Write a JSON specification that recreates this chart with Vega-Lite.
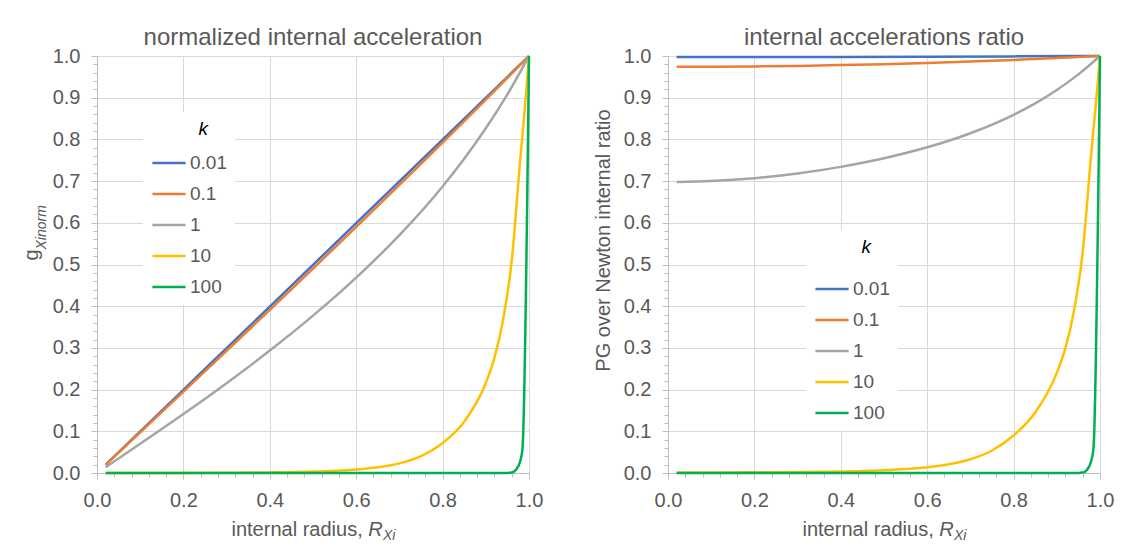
{
  "$schema": "https://vega.github.io/schema/vega-lite/v6.json",
  "background": "white",
  "padding": {"left": 21, "top": 26, "right": 5, "bottom": 5},
  "datasets": {
    "d": [
      {"k": "0.01", "r": 0.02, "g": 0.01995, "p": 0.9974},
      {"k": "0.01", "r": 0.2, "g": 0.1995, "p": 0.9975},
      {"k": "0.01", "r": 0.4, "g": 0.3991, "p": 0.9978},
      {"k": "0.01", "r": 0.6, "g": 0.599, "p": 0.9983},
      {"k": "0.01", "r": 0.8, "g": 0.7993, "p": 0.9991},
      {"k": "0.01", "r": 1.0, "g": 1.0, "p": 1.0},
      {"k": "0.1", "r": 0.02, "g": 0.0195, "p": 0.974},
      {"k": "0.1", "r": 0.1, "g": 0.0974, "p": 0.9743},
      {"k": "0.1", "r": 0.2, "g": 0.195, "p": 0.975},
      {"k": "0.1", "r": 0.3, "g": 0.2929, "p": 0.9763},
      {"k": "0.1", "r": 0.4, "g": 0.3913, "p": 0.9782},
      {"k": "0.1", "r": 0.5, "g": 0.4903, "p": 0.9805},
      {"k": "0.1", "r": 0.6, "g": 0.59, "p": 0.9834},
      {"k": "0.1", "r": 0.7, "g": 0.6907, "p": 0.9867},
      {"k": "0.1", "r": 0.8, "g": 0.7925, "p": 0.9906},
      {"k": "0.1", "r": 0.9, "g": 0.8956, "p": 0.9951},
      {"k": "0.1", "r": 1.0, "g": 1.0, "p": 1.0},
      {"k": "1", "r": 0.02, "g": 0.01396, "p": 0.6981},
      {"k": "1", "r": 0.1, "g": 0.07003, "p": 0.7003},
      {"k": "1", "r": 0.2, "g": 0.1414, "p": 0.707},
      {"k": "1", "r": 0.3, "g": 0.2155, "p": 0.7183},
      {"k": "1", "r": 0.4, "g": 0.2936, "p": 0.7341},
      {"k": "1", "r": 0.5, "g": 0.3774, "p": 0.7547},
      {"k": "1", "r": 0.6, "g": 0.4686, "p": 0.781},
      {"k": "1", "r": 0.7, "g": 0.5704, "p": 0.8148},
      {"k": "1", "r": 0.8, "g": 0.6872, "p": 0.859},
      {"k": "1", "r": 0.85, "g": 0.7534, "p": 0.8864},
      {"k": "1", "r": 0.9, "g": 0.8266, "p": 0.9184},
      {"k": "1", "r": 0.95, "g": 0.9081, "p": 0.9559},
      {"k": "1", "r": 1.0, "g": 1.0, "p": 1.0},
      {"k": "10", "r": 0.02, "g": 0.00002, "p": 0.0012},
      {"k": "10", "r": 0.1, "g": 0.00013, "p": 0.0013},
      {"k": "10", "r": 0.2, "g": 0.0003, "p": 0.0016},
      {"k": "10", "r": 0.3, "g": 0.0007, "p": 0.0023},
      {"k": "10", "r": 0.4, "g": 0.0014, "p": 0.0036},
      {"k": "10", "r": 0.5, "g": 0.0033, "p": 0.0066},
      {"k": "10", "r": 0.6, "g": 0.0082, "p": 0.0137},
      {"k": "10", "r": 0.65, "g": 0.0137, "p": 0.021},
      {"k": "10", "r": 0.7, "g": 0.0231, "p": 0.033},
      {"k": "10", "r": 0.75, "g": 0.0405, "p": 0.054},
      {"k": "10", "r": 0.8, "g": 0.072, "p": 0.09},
      {"k": "10", "r": 0.85, "g": 0.123, "p": 0.145},
      {"k": "10", "r": 0.9, "g": 0.216, "p": 0.24},
      {"k": "10", "r": 0.92, "g": 0.276, "p": 0.3},
      {"k": "10", "r": 0.94, "g": 0.367, "p": 0.39},
      {"k": "10", "r": 0.96, "g": 0.509, "p": 0.53},
      {"k": "10", "r": 0.98, "g": 0.755, "p": 0.77},
      {"k": "10", "r": 0.99, "g": 0.871, "p": 0.88},
      {"k": "10", "r": 1.0, "g": 1.0, "p": 1.0},
      {"k": "100", "r": 0.02, "g": 0, "p": 0},
      {"k": "100", "r": 0.5, "g": 0, "p": 0},
      {"k": "100", "r": 0.9, "g": 0, "p": 0},
      {"k": "100", "r": 0.95, "g": 0.0002, "p": 0.0002},
      {"k": "100", "r": 0.96, "g": 0.001, "p": 0.001},
      {"k": "100", "r": 0.97, "g": 0.0078, "p": 0.008},
      {"k": "100", "r": 0.98, "g": 0.0294, "p": 0.03},
      {"k": "100", "r": 0.985, "g": 0.059, "p": 0.06},
      {"k": "100", "r": 1.0, "g": 1.0, "p": 1.0}
    ]
  },
  "config": {
    "font": "Liberation Sans",
    "view": {"stroke": null},
    "axis": {
      "labelFont": "Liberation Sans",
      "titleFont": "Liberation Sans",
      "labelColor": "#595959",
      "titleColor": "#595959",
      "titleFontWeight": "normal",
      "domainColor": "#bfbfbf",
      "tickColor": "#bfbfbf",
      "gridColor": "#d9d9d9",
      "gridWidth": 1,
      "labelFontSize": 20,
      "titleFontSize": 20
    },
    "title": {"font": "Liberation Sans", "fontSize": 24, "fontWeight": "normal", "color": "#595959"},
    "legend": {"labelFont": "Liberation Sans", "titleFont": "Liberation Sans"}
  },
  "spacing": 139,
  "bounds": "flush",
  "resolve": {"scale": {"color": "independent"}, "legend": {"color": "independent"}},
  "hconcat": [
    {
      "width": 432,
      "height": 417,
      "title": {"text": "normalized internal acceleration", "anchor": "middle", "frame": "group", "offset": -4},
      "layer": [
        {
          "data": {"name": "d"},
          "mark": {"type": "line", "interpolate": "monotone", "strokeWidth": 2.5},
          "encoding": {
            "x": {"field": "r", "type": "quantitative", "scale": {"domain": [0, 1], "nice": false},
              "axis": {"orient": "bottom", "values": [0, 0.2, 0.4, 0.6, 0.8, 1], "format": ".1f", "grid": true, "tickSize": 6, "labelPadding": 11, "labelFlush": false, "labelOverlap": false,
                "title": "internal radius, ", "titleAlign": "left", "titleBaseline": "alphabetic", "titleX": 134, "titleY": 62}},
            "y": {"field": "g", "type": "quantitative", "scale": {"domain": [0, 1], "nice": false},
              "axis": {"orient": "left", "values": [0, 0.1, 0.2, 0.3, 0.4, 0.5, 0.6, 0.7, 0.8, 0.9, 1], "format": ".1f", "grid": true, "tickSize": 6, "labelPadding": 11, "labelFlush": false, "labelOverlap": false,
                "title": "g", "titleAngle": -90, "titleAlign": "left", "titleBaseline": "alphabetic", "titleX": -59.5, "titleY": 204}},
            "color": {"field": "k", "type": "nominal",
              "scale": {"domain": ["0.01", "0.1", "1", "10", "100"], "range": ["#4472C4", "#ED7D31", "#A5A5A5", "#FFC000", "#00B050"]},
              "legend": {"orient": "none", "legendX": 46, "legendY": 56, "title": "\u200b\u00a0\u00a0\u00a0\u00a0\u00a0\u00a0\u00a0\u00a0\u00a0k", "titleFontSize": 19, "titleFontStyle": "italic", "titleFontWeight": "normal", "titleColor": "#000000", "titleAnchor": "start", "titlePadding": 6,
                "labelFontSize": 19, "labelColor": "#595959", "symbolType": "stroke", "symbolStrokeWidth": 2.5, "symbolSize": 1100, "labelOffset": 3, "rowPadding": 3, "fillColor": "white", "padding": 8}}
          }
        },
        {
          "data": {"name": "d"},
          "mark": {"type": "point", "opacity": 0},
          "encoding": {
            "x": {"field": "r", "type": "quantitative", "scale": {"domain": [0, 1], "nice": false},
              "axis": {"orient": "bottom", "values": [0.04, 0.08, 0.12, 0.16, 0.24, 0.28, 0.32, 0.36, 0.44, 0.48, 0.52, 0.56, 0.64, 0.68, 0.72, 0.76, 0.84, 0.88, 0.92, 0.96], "labels": false, "grid": false, "domain": false, "tickSize": 4,
                "title": "R", "titleFontStyle": "italic", "titleAlign": "left", "titleBaseline": "alphabetic", "titleX": 270.8, "titleY": 62}},
            "y": {"field": "g", "type": "quantitative", "scale": {"domain": [0, 1], "nice": false},
              "axis": {"orient": "left", "values": [0.02, 0.04, 0.06, 0.08, 0.12, 0.14, 0.16, 0.18, 0.22, 0.24, 0.26, 0.28, 0.32, 0.34, 0.36, 0.38, 0.42, 0.44, 0.46, 0.48, 0.52, 0.54, 0.56, 0.58, 0.62, 0.64, 0.66, 0.68, 0.72, 0.74, 0.76, 0.78, 0.82, 0.84, 0.86, 0.88, 0.92, 0.94, 0.96, 0.98], "labels": false, "grid": false, "domain": false, "tickSize": 4,
                "title": "Xinorm", "titleFontSize": 14, "titleFontStyle": "italic", "titleAngle": -90, "titleAlign": "left", "titleBaseline": "alphabetic", "titleX": -52, "titleY": 193}}
          }
        },
        {
          "data": {"name": "d"},
          "mark": {"type": "point", "opacity": 0},
          "encoding": {
            "x": {"field": "r", "type": "quantitative", "scale": {"domain": [0, 1], "nice": false},
              "axis": {"orient": "bottom", "values": [], "labels": false, "grid": false, "domain": false, "ticks": false,
                "title": "Xi", "titleFontSize": 14, "titleFontStyle": "italic", "titleAlign": "left", "titleBaseline": "alphabetic", "titleX": 285.5, "titleY": 66}},
            "y": {"field": "g", "type": "quantitative", "scale": {"domain": [0, 1], "nice": false}, "axis": null}
          }
        }
      ],
      "resolve": {"axis": {"x": "independent", "y": "independent"}}
    },
    {
      "width": 432,
      "height": 417,
      "title": {"text": "internal accelerations ratio", "anchor": "middle", "frame": "group", "offset": -4},
      "layer": [
        {
          "data": {"name": "d"},
          "mark": {"type": "line", "interpolate": "monotone", "strokeWidth": 2.5},
          "encoding": {
            "x": {"field": "r", "type": "quantitative", "scale": {"domain": [0, 1], "nice": false},
              "axis": {"orient": "bottom", "values": [0, 0.2, 0.4, 0.6, 0.8, 1], "format": ".1f", "grid": true, "tickSize": 6, "labelPadding": 11, "labelFlush": false, "labelOverlap": false,
                "title": "internal radius, ", "titleAlign": "left", "titleBaseline": "alphabetic", "titleX": 134, "titleY": 62}},
            "y": {"field": "p", "type": "quantitative", "scale": {"domain": [0, 1], "nice": false},
              "axis": {"orient": "left", "values": [0, 0.1, 0.2, 0.3, 0.4, 0.5, 0.6, 0.7, 0.8, 0.9, 1], "format": ".1f", "grid": true, "tickSize": 6, "labelPadding": 11, "labelFlush": false, "labelOverlap": false,
                "title": "PG over Newton internal ratio", "titleAngle": -90, "titleAlign": "center", "titleBaseline": "alphabetic", "titleX": -59, "titleY": 184}},
            "color": {"field": "k", "type": "nominal",
              "scale": {"domain": ["0.01", "0.1", "1", "10", "100"], "range": ["#4472C4", "#ED7D31", "#A5A5A5", "#FFC000", "#00B050"]},
              "legend": {"orient": "none", "legendX": 138, "legendY": 174, "title": "\u200b\u00a0\u00a0\u00a0\u00a0\u00a0\u00a0\u00a0\u00a0\u00a0k", "titleFontSize": 19, "titleFontStyle": "italic", "titleFontWeight": "normal", "titleColor": "#000000", "titleAnchor": "start", "titlePadding": 14,
                "labelFontSize": 19, "labelColor": "#595959", "symbolType": "stroke", "symbolStrokeWidth": 2.5, "symbolSize": 1100, "labelOffset": 3, "rowPadding": 3, "fillColor": "white", "padding": 8}}
          }
        },
        {
          "data": {"name": "d"},
          "mark": {"type": "point", "opacity": 0},
          "encoding": {
            "x": {"field": "r", "type": "quantitative", "scale": {"domain": [0, 1], "nice": false},
              "axis": {"orient": "bottom", "values": [0.04, 0.08, 0.12, 0.16, 0.24, 0.28, 0.32, 0.36, 0.44, 0.48, 0.52, 0.56, 0.64, 0.68, 0.72, 0.76, 0.84, 0.88, 0.92, 0.96], "labels": false, "grid": false, "domain": false, "tickSize": 4,
                "title": "R", "titleFontStyle": "italic", "titleAlign": "left", "titleBaseline": "alphabetic", "titleX": 270.8, "titleY": 62}},
            "y": {"field": "p", "type": "quantitative", "scale": {"domain": [0, 1], "nice": false},
              "axis": {"orient": "left", "values": [0.02, 0.04, 0.06, 0.08, 0.12, 0.14, 0.16, 0.18, 0.22, 0.24, 0.26, 0.28, 0.32, 0.34, 0.36, 0.38, 0.42, 0.44, 0.46, 0.48, 0.52, 0.54, 0.56, 0.58, 0.62, 0.64, 0.66, 0.68, 0.72, 0.74, 0.76, 0.78, 0.82, 0.84, 0.86, 0.88, 0.92, 0.94, 0.96, 0.98], "labels": false, "grid": false, "domain": false, "tickSize": 4, "title": null}}
          }
        },
        {
          "data": {"name": "d"},
          "mark": {"type": "point", "opacity": 0},
          "encoding": {
            "x": {"field": "r", "type": "quantitative", "scale": {"domain": [0, 1], "nice": false},
              "axis": {"orient": "bottom", "values": [], "labels": false, "grid": false, "domain": false, "ticks": false,
                "title": "Xi", "titleFontSize": 14, "titleFontStyle": "italic", "titleAlign": "left", "titleBaseline": "alphabetic", "titleX": 285.5, "titleY": 66}},
            "y": {"field": "p", "type": "quantitative", "scale": {"domain": [0, 1], "nice": false}, "axis": null}
          }
        }
      ],
      "resolve": {"axis": {"x": "independent", "y": "independent"}}
    }
  ]
}
